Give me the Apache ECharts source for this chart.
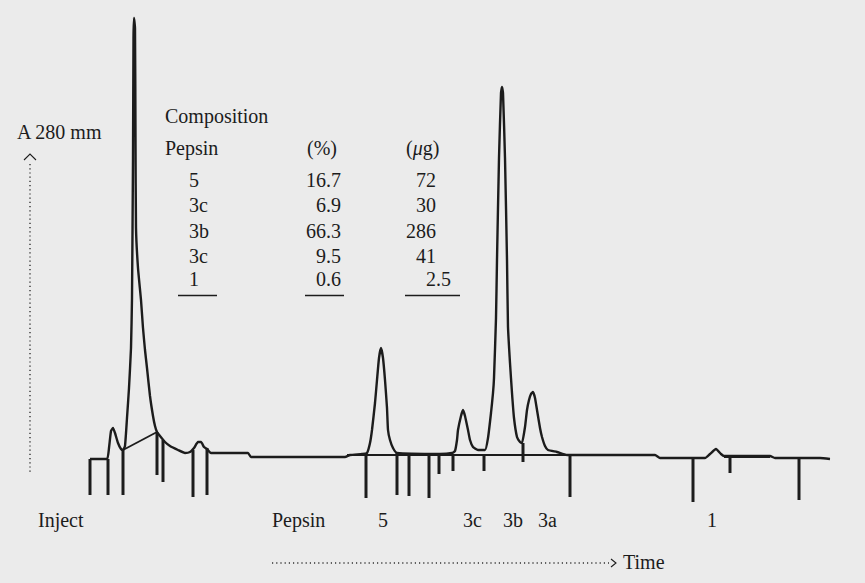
<!DOCTYPE html>
<html><head><meta charset="utf-8">
<script src="https://cdn.jsdelivr.net/npm/echarts/dist/echarts.min.js"></script>
<style>html,body{margin:0;padding:0;background:#ebebeb}#c{width:865px;height:583px}</style>
</head><body><div id="c"></div>
<script>
// Detector trace: [time (arb. units), A280 (mm above baseline)]
const trace = [
  [90,-1],[107,-1],[109,10],[111,27],[113,30],[115,25],[118,15],[121,9],[123,8],
  [125,12],[127,40],[129,70],[131,110],[132,160],[133,300],[133.5,420],[134,440],[135,430],[135.5,320],[136,230],
  [138,190],[141,158],[143,130],[145,108],[147,90],[150,62],[153,42],[155,32],[157,26],
  [160,22],[165,16],[170,12],[178,8],[185,5],[190,6],[194,10],[198,16],[201,16],[204,11],[207,9],[211,5],
  [248,5],[251,1],[345,1],[350,3],[362,4],[367,5],
  [370,15],[372,28],[375,55],[377,78],[379,100],[381,110],[383,100],[385,78],[387,50],[388,28],[390,18],[393,10],[397,5],
  [440,4],[452,5],[455,7],[457,18],[458,28],[461,42],[463,48],[465,42],[468,28],[470,18],[473,11],[478,8],
  [485,8],[488,20],[491,45],[493,65],[494,80],[496,140],[497,198],[499,300],[501,365],[502,371],[503,365],[505,300],[507,198],
  [508,131],[510,95],[512,65],[514,40],[517,21],[520,16],[522,15],[525,31],[527,48],[529,58],[531,64],[533,66],[535,60],[537,48],
  [540,30],[542,21],[545,12],[548,8],[557,6],[567,3],
  [655,3],[660,0],[705,0],[710,4],[716,9],[721,4],[724,2],[770,2],[775,0],[820,0],[830,-1]
];
// Integrator baselines drawn under peaks
const integrationBaselines = [
  [[123,8],[157,26]],
  [[347,3],[590,3]],
  [[724,1],[770,1]]
];
// Integrator event marks: [time, top, bottom]
const eventMarks = [
  [90,-1,-37],[108,-1,-37],[123,8,-37],[157,26,-17],[163,18,-24],[193,8,-39],[207,10,-37],
  [366,3,-40],[397,5,-37],[409,5,-38],[429,3,-40],[439,3,-16],[453,3,-13],[484,3,-13],
  [523,15,-4],[570,3,-39],[693,0,-44],[730,3,-15],[799,0,-42]
];
// Peak identifications under the trace
const peakNames = ['Inject','Pepsin','5','3c','3b','3a','1'];
const peakTimes = [38,272,378,463,503,538,707];
// Composition table
const fractionNames = ['5','3c','3b','3c','1'];
const percentValues = ['16.7','6.9','66.3','9.5','0.6'];
const massValues = ['72','30','286','41','2.5'];

const FONT = '"Liberation Serif", "Times New Roman", serif';
const INK = '#1c1c1c';
const ASC = 17; // top-of-box to baseline offset for 20px text
const chart = echarts.init(document.getElementById('c'), null, {renderer: 'svg'});

const series = [
  {
    type: 'line', data: trace, symbol: 'none', smooth: 0.15, silent: true,
    lineStyle: {color: INK, width: 2.4}, z: 3
  },
  ...integrationBaselines.map(seg => ({
    type: 'line', data: seg, symbol: 'none', silent: true,
    lineStyle: {color: INK, width: 1.8}, z: 2
  })),
  {
    type: 'custom', data: eventMarks, silent: true, z: 4,
    renderItem: (params, api) => {
      const a = api.coord([api.value(0), api.value(1)]);
      const b = api.coord([api.value(0), api.value(2)]);
      return {type: 'line', shape: {x1: a[0], y1: a[1], x2: b[0], y2: b[1]},
        style: {stroke: INK, lineWidth: 3}};
    }
  }
];

chart.setOption({
  animation: false,
  backgroundColor: '#ebebeb',
  grid: {left: 0, right: 0, top: 0, bottom: 0},
  xAxis: {type: 'value', min: 0, max: 865, show: false},
  yAxis: {type: 'value', min: -125, max: 458, show: false},
  series
});

// y given as text baseline
const txt = (x, y, text, align) => ({
  type: 'text', x, y: y - ASC,
  style: {text, font: '20px ' + FONT, fill: INK, align: align || 'left', verticalAlign: 'top'}
});

const g = [];
// y axis indicator
g.push(txt(17, 139, 'A 280 mm'));
g.push({type: 'polyline', shape: {points: [[24,160],[30,154],[36,160]]}, style: {stroke: INK, lineWidth: 1.1, fill: null}});
g.push({type: 'line', shape: {x1: 30, y1: 164, x2: 30, y2: 472}, style: {stroke: '#333', lineWidth: 1.4, lineDash: [1.2, 3]}});
// x axis indicator
g.push({type: 'line', shape: {x1: 272, y1: 563, x2: 609, y2: 563}, style: {stroke: '#333', lineWidth: 1.4, lineDash: [1.2, 3]}});
g.push({type: 'polyline', shape: {points: [[611,559],[616,563],[611,567]]}, style: {stroke: INK, lineWidth: 1.1, fill: null}});
g.push(txt(623, 569, 'Time'));
// peak labels
peakNames.forEach((n, i) => {
  const px = chart.convertToPixel({xAxisIndex: 0, yAxisIndex: 0}, [peakTimes[i], 0])[0];
  g.push(txt(px, 527, n));
});
// table
g.push(txt(165, 123, 'Composition'));
g.push(txt(165, 155, 'Pepsin'));
g.push(txt(307, 155, '(%)'));
g.push({type: 'text', x: 406, y: 155 - ASC, style: {
  text: '({i|μ}g)', font: '20px ' + FONT, fill: INK, verticalAlign: 'top',
  rich: {i: {fontStyle: 'italic', fontFamily: FONT, fontSize: 20, fill: INK}}
}});
const rowY = [187, 212, 238, 263, 286];
const decimalCell = (val, xDec, y) => {
  const parts = val.split('.');
  g.push(txt(xDec, y, parts[0], 'right'));
  if (parts.length > 1) g.push(txt(xDec, y, '.' + parts[1], 'left'));
};
fractionNames.forEach((n, i) => {
  g.push(txt(189, rowY[i], n));
  decimalCell(percentValues[i], 326, rowY[i]);
  decimalCell(massValues[i], 436, rowY[i]);
});
[[178,217],[305,344],[405,460]].forEach(([a, b]) => {
  g.push({type: 'line', shape: {x1: a, y1: 295.5, x2: b, y2: 295.5}, style: {stroke: INK, lineWidth: 1.5}});
});
chart.setOption({graphic: {elements: g}});
</script></body></html>
